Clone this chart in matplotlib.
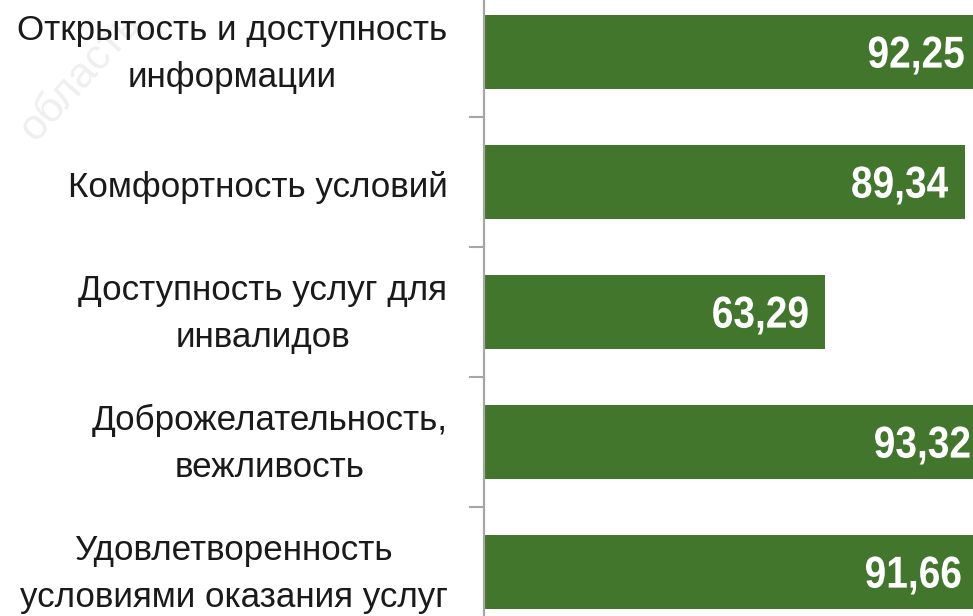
import matplotlib

matplotlib.use("Agg")
import matplotlib.pyplot as plt
from matplotlib import transforms as mtransforms
from matplotlib.font_manager import FontProperties
from matplotlib.patches import PathPatch
from matplotlib.textpath import TextPath

categories = [
    "Открытость и доступность\nинформации",
    "Комфортность условий",
    "Доступность услуг для\nинвалидов",
    "Доброжелательность,\nвежливость",
    "Удовлетворенность\nусловиями оказания услуг",
]
values = [92.25, 89.34, 63.29, 93.32, 91.66]
value_labels = ["92,25", "89,34", "63,29", "93,32", "91,66"]

BAR_COLOR = "#42762D"
AXIS_COLOR = "#A6A6A6"
PX_PER_UNIT = 5.39  # bar length scale

plt.rcParams["font.family"] = ["Liberation Sans", "DejaVu Sans"]

fig = plt.figure(figsize=(9.73, 6.16), dpi=100)
# axes run past the top and bottom of the canvas, like the cropped original
ax = fig.add_axes([483.5 / 973, -21 / 616, 489.5 / 973, 650 / 616])

ypos = list(range(len(categories)))
ax.barh(ypos, values, height=0.57, color=BAR_COLOR, zorder=2)
ax.set_xlim(0, 489.5 / PX_PER_UNIT)
ax.set_ylim(len(categories) - 0.5, -0.5)

# value labels: bold, squeezed sideways to look like a narrow face
num_font = FontProperties(family="Liberation Sans", weight="bold")
num_size = 44.7  # px
digit_h = TextPath((0, 0), "0", size=num_size, prop=num_font).get_extents().y1
for y, v, lab in zip(ypos, values, value_labels):
    tp = TextPath((0, 0), lab, size=num_size, prop=num_font)
    ext = tp.get_extents()
    trans = (
        mtransforms.Affine2D()
        .translate(-ext.x1, -digit_h / 2)
        .scale(0.87, 1)
        .translate(-17, 0)
        + mtransforms.ScaledTranslation(v, y, ax.transData)
    )
    ax.add_patch(PathPatch(tp, transform=trans, facecolor="white",
                           edgecolor="none", clip_on=False, zorder=3))

# category labels drawn as plain texts left of the axis line
for y, cat in zip(ypos, categories):
    dy = -2 if "\n" in cat else -5  # nudge down a little, px
    label_trans = ax.get_yaxis_transform() + mtransforms.Affine2D().translate(-36, dy)
    ax.text(0, y, cat, transform=label_trans, ha="right", va="center",
            multialignment="center", linespacing=1.52, fontsize=25.2,
            color="#1A1A1A", clip_on=False)

ax.set_yticks([])
ax.set_yticks([i + 0.5 for i in ypos[:-1]], minor=True)
ax.tick_params(axis="y", which="minor", length=11, width=1.5, color=AXIS_COLOR, direction="out")
ax.set_xticks([])

for side in ("top", "right", "bottom"):
    ax.spines[side].set_visible(False)
ax.spines["left"].set_color(AXIS_COLOR)
ax.spines["left"].set_linewidth(1.6)

# faint watermark in the top left corner, behind everything
fig.text(12 / 973, 1 - 140 / 616, "область", rotation=48, fontsize=31,
         color="#EFEFEF", ha="left", va="baseline", zorder=-1)

fig.savefig("out.png", dpi=100)
